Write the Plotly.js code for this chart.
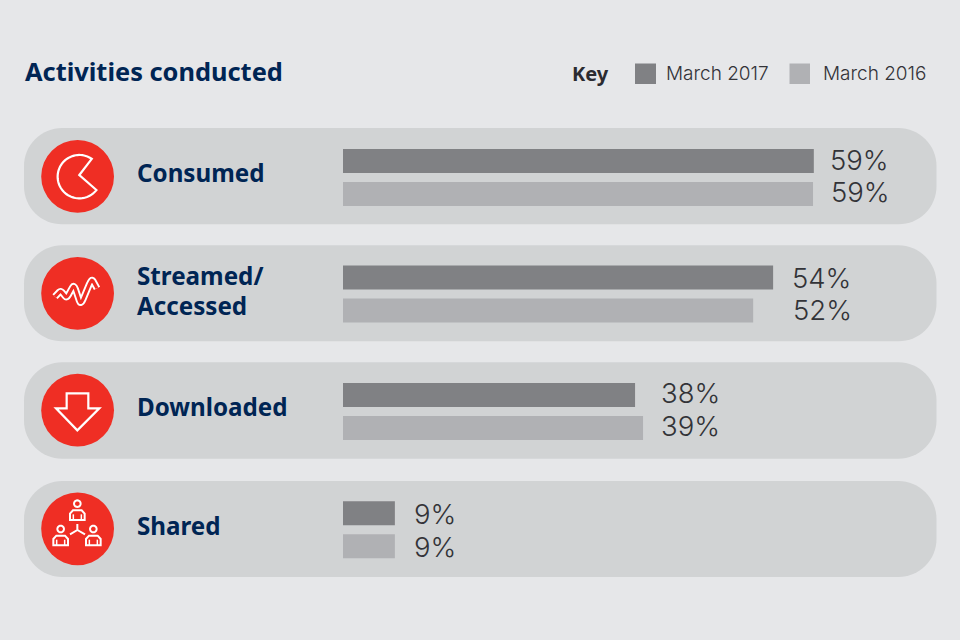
<!DOCTYPE html>
<html><head><meta charset="utf-8">
<script src="https://cdn.plot.ly/plotly-3.0.1.min.js"></script>
<style>html,body{margin:0;padding:0;background:#e6e7e9}#c{width:960px;height:640px}</style>
</head><body><div id="c"></div>
<script>
// Data
const rowKeys = [0, 0.9925, 1.9935, 3];
const rowLabels = [['Consumed'], ['Streamed/', 'Accessed'], ['Downloaded'], ['Shared']];
const seriesNames = ['March 2017', 'March 2016'];
const labels2017 = ['59%', '54%', '38%', '9%'];
const labels2016 = ['59%', '52%', '39%', '9%'];
// Bar lengths (drawn lengths are not proportional to the printed values)
const bars2017 = [59.0, 53.9, 36.6, 6.5];
const bars2016 = [58.9, 51.4, 37.6, 6.5];
// Gap (px) from bar end to printed label
const gaps2017 = [14.5, 17, 23.5, 17];
const gaps2016 = [15.5, 37.5, 15.5, 17];
// Vertical centre (px) of printed labels
const labelY2017 = [159.5, 277.5, 392.5, 513.5];
const labelY2016 = [192, 309.5, 425.5, 546.5];
const rowTextY = [[172], [275.5, 305], [406.5], [525]];

const W = 960, H = 640;
const NAVY = '#002554', RED = '#ef2e24', DARK = '#808184', LIGHT = '#b0b1b4', PILL = '#d1d3d4', BG = '#e6e7e9', TXT = '#333338';
const pxPerUnit = 7.98, x0px = 343, step = 117.4, y0px = 177.5;

const fx = x => (x / W).toFixed(5), fy = y => (1 - y / H).toFixed(5);
const P = (pts, close) => pts.map((p, i) => (i ? 'L' : 'M') + fx(p[0]) + ',' + fy(p[1])).join('') + (close ? 'Z' : '');
const shapes = [];
const paper = { xref: 'paper', yref: 'paper', layer: 'below' };
const pathShape = (path, o) => shapes.push(Object.assign({ type: 'path', path }, paper, o));
const stroke = (w, col) => ({ line: { color: col || '#ffffff', width: w } });

function arc(cx, cy, r, a0, a1, n) {
  const out = [];
  for (let i = 0; i <= n; i++) { const a = (a0 + (a1 - a0) * i / n) * Math.PI / 180; out.push([cx + r * Math.cos(a), cy + r * Math.sin(a)]); }
  return out;
}
function pill(x0, y0, x1, y1, r) {
  const pts = [].concat(arc(x1 - r, y0 + r, r, -90, 0, 16), arc(x1 - r, y1 - r, r, 0, 90, 16), arc(x0 + r, y1 - r, r, 90, 180, 16), arc(x0 + r, y0 + r, r, 180, 270, 16));
  pathShape(P(pts, true), { fillcolor: PILL, line: { width: 0 } });
}
[[128, 224.3], [245.3, 341.3], [362.3, 458.7], [481, 577]].forEach(r => pill(24, r[0], 936.5, r[1], 38));

const cy = [176.4, 293.3, 410.2, 528.8];
cy.forEach(c => shapes.push(Object.assign({ type: 'circle', x0: fx(77.6 - 36.4), x1: fx(77.6 + 36.4), y0: fy(c + 36.4), y1: fy(c - 36.4), fillcolor: RED, line: { width: 0 } }, paper)));

// Icon 1: pac-man
const z1 = (x, y) => [20 + x / 3, 120 + y / 3];
{
  const c = z1(178, 170), r = 66 / 3 - 0.3;
  const m = z1(178, 165);
  pathShape(P([m].concat(arc(c[0], c[1], r, -55, -322, 60)), true), Object.assign({ fillcolor: 'rgba(0,0,0,0)' }, stroke(2.2)));
}
// Icon 2: wave drawn as a white stroke with a red core, corners rounded
{
  const z = (x, y) => [45 + x / 3, 265 + y / 3];
  const w = [[30, 95], [47, 77], [65, 99], [87, 59], [107, 120], [140, 41], [156, 70]].map(p => z(p[0], p[1]));
  let path = 'M' + fx(w[0][0]) + ',' + fy(w[0][1]);
  for (let i = 1; i < w.length - 1; i++) {
    const a = w[i - 1], b = w[i], c = w[i + 1], t = 0.22;
    const p = [b[0] + (a[0] - b[0]) * t, b[1] + (a[1] - b[1]) * t], q = [b[0] + (c[0] - b[0]) * t, b[1] + (c[1] - b[1]) * t];
    path += 'L' + fx(p[0]) + ',' + fy(p[1]) + 'Q' + fx(b[0]) + ',' + fy(b[1]) + ' ' + fx(q[0]) + ',' + fy(q[1]);
  }
  path += 'L' + fx(w[w.length - 1][0]) + ',' + fy(w[w.length - 1][1]);
  pathShape(path, { line: { color: '#ffffff', width: 7 } });
  pathShape(path, { line: { color: RED, width: 3.2 } });
}
// Icon 3: arrow
{
  const z = (x, y) => [20 + x / 3, 355 + y / 3];
  const a = [[140, 115], [205, 115], [205, 160], [238, 160], [172, 226], [108, 160], [140, 160]].map(p => z(p[0], p[1]));
  pathShape(P(a, true), Object.assign({ fillcolor: 'rgba(0,0,0,0)' }, stroke(2.2)));
}
// Icon 4: three people
{
  const z = (x, y) => [45 + x / 3, 495 + y / 3];
  const person = (cx, headY, top) => {
    const hc = z(cx, headY);
    pathShape(P(arc(hc[0], hc[1], 3.3, 0, 360, 24), true), Object.assign({ fillcolor: 'rgba(0,0,0,0)' }, stroke(2)));
    const body = [[cx - 22, top + 31], [cx - 22, top + 12], [cx - 13, top + 2], [cx + 13, top + 2], [cx + 22, top + 12], [cx + 22, top + 31]].map(p => z(p[0], p[1]));
    pathShape(P(body, true), Object.assign({ fillcolor: 'rgba(0,0,0,0)' }, stroke(2)));
    pathShape(P([z(cx - 12, top + 14), z(cx - 12, top + 31)]), stroke(1.5));
    pathShape(P([z(cx + 12, top + 14), z(cx + 12, top + 31)]), stroke(1.5));
  };
  person(97, 26, 44); person(47, 102, 120); person(145, 102, 120);
  pathShape(P([z(97, 87), z(97, 105), z(75, 118)]), stroke(2));
  pathShape(P([z(97, 105), z(120, 118)]), stroke(2));
}
// Key swatches
shapes.push(Object.assign({ type: 'rect', x0: fx(635), x1: fx(656), y0: fy(84), y1: fy(63.5), fillcolor: DARK, line: { width: 0 } }, paper));
shapes.push(Object.assign({ type: 'rect', x0: fx(789.5), x1: fx(810), y0: fy(84), y1: fy(63.5), fillcolor: LIGHT, line: { width: 0 } }, paper));

const annotations = [];
const pct = { family: 'Inter, Lato, sans-serif', size: 27.5, color: TXT, weight: 300 };
rowKeys.forEach((k, i) => {
  annotations.push({ x: bars2017[i], y: 1 - labelY2017[i] / H, xref: 'x', yref: 'paper', text: labels2017[i], showarrow: false, xanchor: 'left', yanchor: 'middle', xshift: gaps2017[i], font: pct });
  annotations.push({ x: bars2016[i], y: 1 - labelY2016[i] / H, xref: 'x', yref: 'paper', text: labels2016[i], showarrow: false, xanchor: 'left', yanchor: 'middle', xshift: gaps2016[i], font: pct });
});
const rowFont = { family: '"Noto Sans", sans-serif', size: 24.2, color: NAVY, weight: 700 };
const paperText = (x, y, text, font, extra) => annotations.push(Object.assign({ xref: 'paper', yref: 'paper', x: x / W, y: 1 - y / H, text, showarrow: false, xanchor: 'left', yanchor: 'middle', align: 'left', font }, extra || {}));
rowLabels.forEach((lines, i) => lines.forEach((t, j) => paperText(135, rowTextY[i][j], t, rowFont)));
paperText(570, 74, 'Key', { family: '"Noto Sans", sans-serif', size: 20, color: '#2b2b30', weight: 700 });
const keyFont = { family: 'Inter, Lato, sans-serif', size: 19, color: TXT, weight: 300 };
paperText(663.5, 74, seriesNames[0], keyFont);
paperText(821, 74, seriesNames[1], keyFont);

const traces = [
  { type: 'bar', orientation: 'h', name: seriesNames[0], y: rowKeys, x: bars2017, marker: { color: DARK, line: { width: 0 } }, hoverinfo: 'skip' },
  { type: 'bar', orientation: 'h', name: seriesNames[1], y: rowKeys, x: bars2016, marker: { color: LIGHT, line: { width: 0 } }, hoverinfo: 'skip' }
];
const layout = {
  width: W, height: H, margin: { l: 0, r: 0, t: 0, b: 0, pad: 0 },
  paper_bgcolor: BG, plot_bgcolor: 'rgba(0,0,0,0)', showlegend: false,
  barmode: 'group', bargap: 0.434, bargroupgap: 0.273,
  title: { text: 'Activities conducted', x: 25 / W, xanchor: 'left', y: 1 - 72 / H, yanchor: 'middle', font: { family: '"Noto Sans", sans-serif', size: 25.4, color: NAVY, weight: 700 } },
  xaxis: { range: [-x0px / pxPerUnit, (W - x0px) / pxPerUnit], visible: false, fixedrange: true },
  yaxis: { range: [(H - y0px) / step, -y0px / step], visible: false, fixedrange: true, type: 'linear' },
  shapes, annotations
};
Plotly.newPlot('c', traces, layout, { displayModeBar: false, staticPlot: true });
</script></body></html>
